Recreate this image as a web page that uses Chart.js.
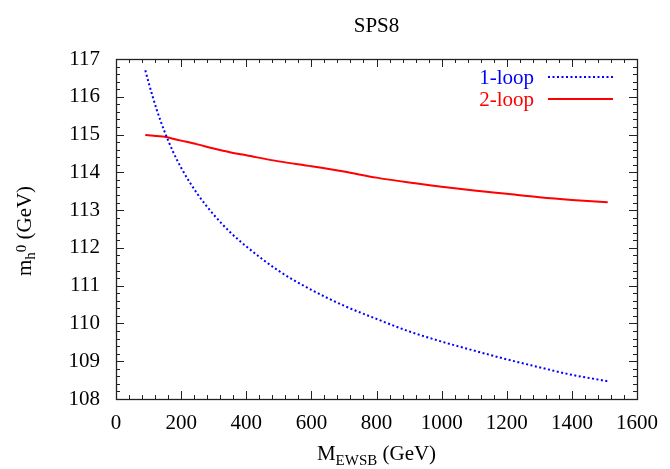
<!DOCTYPE html>
<html>
<head>
<meta charset="utf-8">
<title>SPS8</title>
<script src="https://cdn.jsdelivr.net/npm/chart.js@4.4.1/dist/chart.umd.min.js"></script>
<style>
  html, body { margin: 0; padding: 0; background: #fff; }
  #wrap { width: 670px; height: 469px; }
</style>
</head>
<body>
<div id="wrap"><canvas id="chart" width="670" height="469"></canvas></div>
<script>
// scan points, M_EWSB in GeV
const mEwsb = [90, 100, 125, 150, 175, 200, 250, 300, 350, 400, 500, 600, 700, 800, 900, 1000, 1100, 1200, 1300, 1400, 1510];

// light higgs mass m_h0 (GeV)
const oneLoop = [116.70, 116.38, 115.66, 115.06, 114.55, 114.12, 113.43, 112.88, 112.42, 112.04, 111.39, 110.89, 110.47, 110.12, 109.79, 109.52, 109.28, 109.05, 108.84, 108.64, 108.47];
const twoLoop = [114.99, 114.98, 114.96, 114.94, 114.89, 114.84, 114.74, 114.63, 114.53, 114.45, 114.29, 114.16, 114.02, 113.86, 113.73, 113.62, 113.52, 113.43, 113.34, 113.27, 113.21];

const xTickValues = [0, 200, 400, 600, 800, 1000, 1200, 1400, 1600];
const yTickValues = [108, 109, 110, 111, 112, 113, 114, 115, 116, 117];

const SERIF = '"Liberation Serif", "DejaVu Serif", serif';

function toPoints(ys) {
  return mEwsb.map((x, i) => ({ x: x, y: ys[i] }));
}

// frame + inward ticks on all four sides (gnuplot style)
const frameTicks = {
  id: 'frameTicks',
  afterDatasetsDraw(chart) {
    const { ctx, chartArea: a, scales: { x, y } } = chart;
    ctx.save();
    ctx.strokeStyle = '#222';
    ctx.lineWidth = 1;
    ctx.beginPath();
    for (let v = x.min; v <= x.max + 1e-6; v += 40) {
      const px = Math.round(x.getPixelForValue(v)) + 0.5;
      const len = xTickValues.includes(Math.round(v)) ? 8 : 4;
      ctx.moveTo(px, a.bottom); ctx.lineTo(px, a.bottom - len);
      ctx.moveTo(px, a.top); ctx.lineTo(px, a.top + len);
    }
    for (let v = y.min; v <= y.max + 1e-6; v += 0.2) {
      const py = Math.round(y.getPixelForValue(v)) + 0.5;
      const major = Math.abs(v - Math.round(v)) < 1e-6;
      const len = major ? 8 : 4;
      ctx.moveTo(a.left, py); ctx.lineTo(a.left + len, py);
      ctx.moveTo(a.right, py); ctx.lineTo(a.right - len, py);
    }
    ctx.stroke();
    ctx.lineWidth = 1.3;
    ctx.strokeRect(Math.round(a.left) + 0.5, Math.round(a.top) + 0.5,
      Math.round(a.right - a.left), Math.round(a.bottom - a.top));
    ctx.restore();
  }
};

// title, axis titles with sub/superscripts, and the legend
const labelsPlugin = {
  id: 'labelsPlugin',
  afterDraw(chart) {
    const { ctx, chartArea: a } = chart;
    const cx = (a.left + a.right) / 2;
    const cy = (a.top + a.bottom) / 2;
    ctx.save();
    ctx.fillStyle = '#000';
    ctx.textBaseline = 'alphabetic';

    // title
    ctx.font = '21px ' + SERIF;
    ctx.textAlign = 'center';
    ctx.fillText('SPS8', cx, 32);

    // x axis title: M_EWSB (GeV)
    ctx.textAlign = 'left';
    const big = '21px ' + SERIF, small = '15px ' + SERIF;
    ctx.font = big; const wM = ctx.measureText('M').width;
    ctx.font = small; const wSub = ctx.measureText('EWSB').width;
    ctx.font = big; const wRest = ctx.measureText(' (GeV)').width;
    let sx = cx - (wM + wSub + wRest) / 2;
    ctx.font = big; ctx.fillText('M', sx, 460); sx += wM;
    ctx.font = small; ctx.fillText('EWSB', sx, 465); sx += wSub;
    ctx.font = big; ctx.fillText(' (GeV)', sx, 460);

    // y axis title: m_h^0 (GeV), rotated
    ctx.translate(0, cy + 2);
    ctx.rotate(-Math.PI / 2);
    ctx.font = big; const wm = ctx.measureText('m').width;
    ctx.font = small; const wh = ctx.measureText('h').width; const w0 = ctx.measureText('0').width;
    ctx.font = big; const wg = ctx.measureText(' (GeV)').width;
    let tx = -(wm + wh + w0 + wg) / 2;
    ctx.font = big; ctx.fillText('m', tx, 31); tx += wm;
    ctx.font = small; ctx.fillText('h', tx, 35); tx += wh;
    ctx.fillText('0', tx, 26); tx += w0;
    ctx.font = big; ctx.fillText(' (GeV)', tx, 31);
    ctx.setTransform(1, 0, 0, 1, 0, 0);

    // legend, top right inside the frame
    const rows = [77, 99];
    chart.data.datasets.forEach((ds, i) => {
      const ly = rows[i];
      ctx.font = '21px ' + SERIF;
      ctx.textAlign = 'right';
      ctx.textBaseline = 'middle';
      ctx.fillStyle = ds.borderColor;
      ctx.fillText(ds.label, 534, ly + 1);
      ctx.strokeStyle = ds.borderColor;
      ctx.lineWidth = ds.borderWidth;
      ctx.setLineDash(ds.borderDash || []);
      ctx.beginPath();
      ctx.moveTo(548, ly); ctx.lineTo(613, ly);
      ctx.stroke();
    });
    ctx.restore();
  }
};

new Chart(document.getElementById('chart'), {
  type: 'line',
  data: {
    datasets: [
      {
        label: '1-loop',
        data: toPoints(oneLoop),
        borderColor: '#0000ff',
        borderWidth: 2,
        borderDash: [2, 2.5],
        pointRadius: 0,
        cubicInterpolationMode: 'monotone',
        fill: false
      },
      {
        label: '2-loop',
        data: toPoints(twoLoop),
        borderColor: '#ff0000',
        borderWidth: 2,
        pointRadius: 0,
        cubicInterpolationMode: 'monotone',
        fill: false
      }
    ]
  },
  options: {
    responsive: false,
    animation: false,
    layout: { padding: { top: 59, right: 29, left: 0, bottom: 0 } },
    plugins: {
      legend: { display: false },
      title: { display: false },
      tooltip: { enabled: false }
    },
    scales: {
      x: {
        type: 'linear',
        min: 0,
        max: 1600,
        afterBuildTicks: (s) => { s.ticks = xTickValues.map(v => ({ value: v })); },
        afterFit: (s) => { s.height = 70; },
        grid: { display: false, drawTicks: false },
        border: { display: false },
        ticks: { color: '#000', padding: 12, maxRotation: 0, callback: (v) => String(v), font: { family: SERIF, size: 21 } }
      },
      y: {
        type: 'linear',
        min: 108,
        max: 117,
        afterBuildTicks: (s) => { s.ticks = yTickValues.map(v => ({ value: v })); },
        afterFit: (s) => { s.width = 116; },
        grid: { display: false, drawTicks: false },
        border: { display: false },
        ticks: { color: '#000', padding: 16, callback: (v) => String(v), font: { family: SERIF, size: 21 } }
      }
    }
  },
  plugins: [frameTicks, labelsPlugin]
});
</script>
</body>
</html>
